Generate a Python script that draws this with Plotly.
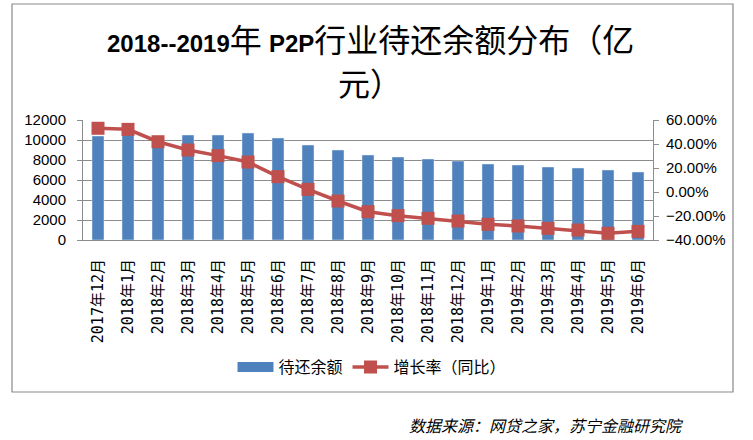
import plotly.graph_objects as go

categories = ["2017年12月", "2018年1月", "2018年2月", "2018年3月", "2018年4月", "2018年5月",
              "2018年6月", "2018年7月", "2018年8月", "2018年9月", "2018年10月", "2018年11月",
              "2018年12月", "2019年1月", "2019年2月", "2019年3月", "2019年4月", "2019年5月",
              "2019年6月"]
balance = [10400, 10700, 10200, 10500, 10500, 10700, 10200, 9500, 9000, 8500, 8300, 8100,
           7900, 7600, 7500, 7300, 7200, 7000, 6800]
growth = [0.531, 0.522, 0.419, 0.350, 0.303, 0.250, 0.128, 0.022, -0.075, -0.164, -0.197,
          -0.219, -0.242, -0.269, -0.283, -0.303, -0.317, -0.344, -0.328]
left_ticks = [0, 2000, 4000, 6000, 8000, 10000, 12000]
right_ticks = [-0.4, -0.2, 0.0, 0.2, 0.4, 0.6]

BLUE = "#4F81BD"
RED = "#C0504D"
GRID = "#8C8C8C"

fig = go.Figure()
fig.add_trace(go.Bar(x=categories, y=balance, name="待还余额", marker_color=BLUE,
                     showlegend=False, yaxis="y"))
# legend swatch for the bar series (wide flat rectangle like the original)
fig.add_trace(go.Scatter(x=[None], y=[None], name="待还余额", mode="lines",
                         line=dict(color=BLUE, width=10), yaxis="y"))
fig.add_trace(go.Scatter(x=categories, y=growth, name="增长率（同比）", mode="lines+markers",
                         line=dict(color=RED, width=3.5),
                         marker=dict(symbol="square", size=13, color=RED),
                         yaxis="y2"))

L, R, T, B = 83, 100, 120, 200
W, H = 753, 440
pw = W - L - R
ph = H - T - B

def px(xp):
    return (xp - L) / pw

def py(yp):
    return (H - B - yp) / ph

LAT = "font-family:Liberation Sans;font-size:24px;font-weight:bold"
title_line1 = (f"<span style='{LAT}'>2018--2019</span>年 <span style='{LAT}'>P2P</span>"
               "行业待还余额分布（亿")
title_line2 = "元）"

fig.update_layout(
    width=W, height=H,
    margin=dict(l=L, r=R, t=T, b=B, pad=0, autoexpand=False),
    paper_bgcolor="white", plot_bgcolor="white",
    bargap=0.6,
    font=dict(family="Liberation Sans, Noto Sans CJK SC, sans-serif", color="black"),
    xaxis=dict(type="category", range=[-0.5, len(categories) - 0.5], tickangle=-90,
               showgrid=False, showline=True, linecolor=GRID, linewidth=1, ticks="",
               ticklabelstandoff=12,
               tickfont=dict(family="DejaVu Sans Mono, Noto Sans CJK SC", size=15, color="black")),
    yaxis=dict(range=[0, 12000], tickvals=left_ticks, tickformat="d", showgrid=True,
               gridcolor=GRID, gridwidth=1, showline=True, linecolor=GRID, linewidth=1,
               ticks="outside", ticklen=5, tickcolor=GRID, ticklabelstandoff=8, zeroline=False,
               tickfont=dict(size=15, color="black")),
    yaxis2=dict(range=[-0.4, 0.6], tickvals=right_ticks, tickformat=".2%", overlaying="y",
                side="right", showgrid=False, showline=True, linecolor=GRID, linewidth=1,
                ticks="outside", ticklen=5, tickcolor=GRID, zeroline=False, ticklabelstandoff=4,
                tickfont=dict(size=15, color="black")),
    legend=dict(orientation="h", x=px(372), xanchor="center", y=py(367), yanchor="middle",
                font=dict(family="Noto Sans CJK SC", size=16, color="black"),
                itemwidth=36, tracegroupgap=0, bgcolor="rgba(0,0,0,0)"),
    shapes=[dict(type="rect", xref="paper", yref="paper", x0=px(12), x1=px(733),
                 y0=py(392), y1=py(4), line=dict(color="#898989", width=1.2),
                 fillcolor="rgba(0,0,0,0)", layer="above")],
    annotations=[
        dict(text=title_line1, xref="paper", yref="paper", x=px(370), y=py(38),
             xanchor="center", yanchor="middle", showarrow=False,
             font=dict(family="Noto Sans CJK SC", size=32, color="black")),
        dict(text=title_line2, xref="paper", yref="paper", x=px(370), y=py(82),
             xanchor="center", yanchor="middle", showarrow=False,
             font=dict(family="Noto Sans CJK SC", size=32, color="black")),
        dict(text="<i>数据来源：网贷之家，苏宁金融研究院</i>", xref="paper", yref="paper",
             x=px(686), y=py(425), xanchor="right", yanchor="middle",
             showarrow=False,
             font=dict(family="Noto Sans CJK SC", size=16, color="black"))],
)

fig.write_html("out.html", config={"displayModeBar": False},
               post_script="document.body.style.margin='0';")
